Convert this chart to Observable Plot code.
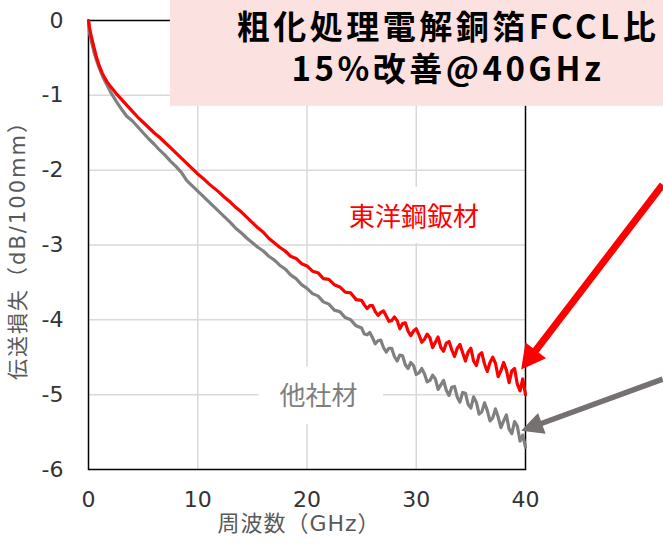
<!DOCTYPE html>
<html><head><meta charset="utf-8">
<script src="https://cdn.jsdelivr.net/npm/d3@7"></script>
<script src="https://cdn.jsdelivr.net/npm/@observablehq/plot@0.6"></script>
<style>body{margin:0;background:#fff}</style>
</head><body><div id="chart"></div>
<script>
// 東洋鋼鈑材 (red)
const redFreq = [0,0.1,0.25,0.5,0.75,1,1.25,1.5,1.75,2,2.5,3,3.5,4,4.5,5,5.5,6,6.5,7,7.5,8,8.5,9,9.5,10,10.5,11,11.5,12,12.5,13,13.5,14,14.5,15,15.5,16,16.5,17,17.5,18,18.5,19,19.5,20,20.5,21,21.5,22,22.5,23,23.5,24,24.5,
  25,25.25,25.5,25.75,26,26.25,26.5,26.75,27,27.25,27.5,27.75,28,28.25,28.5,28.75,29,29.25,29.5,29.75,30,30.25,30.5,30.75,31,31.25,31.5,31.75,32,32.25,32.5,32.75,33,33.25,33.5,33.75,34,34.25,34.5,34.75,35,35.25,35.5,35.75,36,36.25,36.5,36.75,37,37.25,37.5,37.75,38,38.25,38.5,38.75,39,39.25,39.5,39.75,40];
const redLoss = [0,-0.1,-0.21,-0.36,-0.5,-0.61,-0.7,-0.77,-0.83,-0.88,-0.97,-1.05,-1.13,-1.21,-1.29,-1.36,-1.43,-1.5,-1.56,-1.63,-1.7,-1.77,-1.84,-1.91,-1.98,-2.05,-2.11,-2.18,-2.24,-2.3,-2.37,-2.43,-2.5,-2.56,-2.63,-2.7,-2.77,-2.83,-2.91,-2.97,-3.03,-3.08,-3.15,-3.18,-3.25,-3.28,-3.35,-3.37,-3.45,-3.46,-3.53,-3.56,-3.63,-3.64,-3.73,
  -3.74,-3.8,-3.85,-3.81,-3.81,-3.89,-3.94,-3.9,-3.88,-3.95,-4.02,-4.01,-3.96,-4.01,-4.12,-4.05,-4.04,-4.15,-4.21,-4.15,-4.12,-4.2,-4.3,-4.26,-4.19,-4.24,-4.37,-4.3,-4.23,-4.37,-4.42,-4.31,-4.29,-4.4,-4.49,-4.38,-4.33,-4.44,-4.55,-4.43,-4.38,-4.55,-4.61,-4.47,-4.44,-4.59,-4.69,-4.57,-4.5,-4.58,-4.76,-4.68,-4.57,-4.67,-4.84,-4.68,-4.65,-4.86,-4.95,-4.79,-5.0];
// 他社材 (gray)
const grayFreq = [0,0.05,0.1,0.25,0.5,0.75,1,1.25,1.5,2,2.5,3,3.5,4,4.5,5,5.5,6,6.5,7,7.5,8,8.5,9,9.5,10,10.5,11,11.5,12,12.5,13,13.5,14,14.5,15,15.5,16,16.5,17,17.5,18,18.5,19,19.5,20,20.5,21,21.5,22,22.5,23,23.5,24,24.5,
  25,25.25,25.5,25.75,26,26.25,26.5,26.75,27,27.25,27.5,27.75,28,28.25,28.5,28.75,29,29.25,29.5,29.75,30,30.25,30.5,30.75,31,31.25,31.5,31.75,32,32.25,32.5,32.75,33,33.25,33.5,33.75,34,34.25,34.5,34.75,35,35.25,35.5,35.75,36,36.25,36.5,36.75,37,37.25,37.5,37.75,38,38.25,38.5,38.75,39,39.25,39.5,39.75,40];
const grayLoss = [0,-0.1,-0.17,-0.27,-0.42,-0.54,-0.64,-0.73,-0.81,-0.95,-1.07,-1.18,-1.28,-1.34,-1.42,-1.5,-1.58,-1.65,-1.73,-1.8,-1.88,-1.95,-2.03,-2.14,-2.21,-2.28,-2.35,-2.42,-2.49,-2.56,-2.63,-2.7,-2.78,-2.84,-2.91,-2.97,-3.03,-3.08,-3.15,-3.2,-3.27,-3.32,-3.4,-3.45,-3.53,-3.58,-3.65,-3.68,-3.76,-3.79,-3.87,-3.89,-3.97,-4.0,-4.08,
  -4.11,-4.19,-4.2,-4.17,-4.24,-4.32,-4.28,-4.27,-4.37,-4.43,-4.38,-4.38,-4.49,-4.55,-4.47,-4.48,-4.6,-4.65,-4.57,-4.61,-4.73,-4.71,-4.65,-4.72,-4.83,-4.81,-4.74,-4.79,-4.93,-4.87,-4.81,-4.94,-5.01,-4.9,-4.89,-5.03,-5.1,-4.97,-4.98,-5.13,-5.18,-5.03,-5.1,-5.26,-5.23,-5.11,-5.21,-5.35,-5.31,-5.19,-5.3,-5.44,-5.35,-5.27,-5.46,-5.52,-5.36,-5.42,-5.62,-5.54,-5.7];

const xTicks = [0,10,20,30,40];
const yTicks = [0,-1,-2,-3,-4,-5,-6];
const xLabel = "周波数（GHz）";
const yLabel = "伝送損失（dB/100mm）";
const calloutLines = ["粗化処理電解銅箔FCCL比", "15%改善@40GHz"];
const calloutY = [-0.1, -0.67];
const seriesNames = ["東洋鋼鈑材", "他社材"];

const red = redFreq.map((f, i) => ({f, v: redLoss[i]}));
const gray = grayFreq.map((f, i) => ({f, v: grayLoss[i]}));

// annotation placement (data coordinates)
const calloutBox = [{x1: 7.5, x2: 60, y1: 1, y2: -1.147}];
const labelBoxes = [
  {x1: 22.2, x2: 38.0, y1: -2.23, y2: -2.98},
  {x1: 15.6, x2: 27.0, y1: -4.63, y2: -5.4}
];
const seriesLabels = [
  {x: 29.8, y: -2.63, text: seriesNames[0], color: "#ff0000"},
  {x: 21.05, y: -5.03, text: seriesNames[1], color: "#7f7f7f"}
];
const arrows = [
  {x1: 52.6, y1: -2.2, x2: 39.65, y2: -4.67, color: "#ff0000", width: 7, len: 24, half: 13},
  {x1: 52.6, y1: -4.8, x2: 39.65, y2: -5.49, color: "#767171", width: 5.5, len: 22, half: 11}
];

const font = "'DejaVu Sans', 'Noto Sans CJK JP', sans-serif";
const plot = Plot.plot({
  width: 663, height: 550,
  marginLeft: 88, marginRight: 138, marginTop: 20, marginBottom: 81,
  style: {fontFamily: font, background: "#fff", overflow: "hidden"},
  x: {domain: [0, 40]},
  y: {domain: [-6, 0]},
  marks: [
    Plot.gridX(xTicks.slice(1, -1), {stroke: "#d9d9d9", strokeOpacity: 1, strokeWidth: 1.5}),
    Plot.gridY(yTicks.slice(1, -1), {stroke: "#d9d9d9", strokeOpacity: 1, strokeWidth: 1.5}),
    Plot.rect(labelBoxes, {x1: "x1", x2: "x2", y1: "y1", y2: "y2", fill: "white"}),
    Plot.frame({stroke: "black", strokeWidth: 1.5}),
    Plot.axisX(xTicks, {tickSize: 0, tickPadding: 22, fontSize: 22, fill: "#333", label: null, tickFormat: d => String(d)}),
    Plot.axisY(yTicks, {tickSize: 0, tickPadding: 25, fontSize: 22, fill: "#333", label: null, tickFormat: d => String(d)}),
    Plot.text([yLabel], {frameAnchor: "left", dx: -70, rotate: -90, textAnchor: "middle", text: d => d, fontSize: 21, fill: "#595959"}),
    Plot.text([xLabel], {frameAnchor: "bottom", dy: 61, dx: -8, textAnchor: "middle", text: d => d, fontSize: 22, fill: "#595959"}),
    Plot.line(gray, {x: "f", y: "v", stroke: "#808080", strokeWidth: 3.2}),
    Plot.line(red, {x: "f", y: "v", stroke: "#ff0000", strokeWidth: 3.2}),
    Plot.rect(calloutBox, {x1: "x1", x2: "x2", y1: "y1", y2: "y2", fill: "#fce1e1"}),
    Plot.text(calloutLines, {x: 32.9, y: (d, i) => calloutY[i], text: d => d, fontSize: 33, fontWeight: "bold", fill: "black", fontFamily: "'Noto Sans CJK JP', 'DejaVu Sans', sans-serif"}),
    Plot.text(seriesLabels, {x: "x", y: "y", text: "text", fill: "color", fontSize: 26, fontFamily: "'Noto Sans CJK JP', sans-serif"})
  ]
});

const svg = d3.select(plot);
// letter spacing to match the reference's wide glyphs
svg.selectAll("text").each(function () {
  const t = this.textContent;
  if (calloutLines.includes(t)) d3.select(this).style("letter-spacing", "3.5px");
  else if (t === yLabel) d3.select(this).style("letter-spacing", "2px");
  else if (t === xLabel) d3.select(this).style("letter-spacing", "1px");
});

// arrows drawn through the plot's scales
const sx = plot.scale("x"), sy = plot.scale("y");
for (const a of arrows) {
  const p1 = [sx.apply(a.x1), sy.apply(a.y1)];
  const p2 = [sx.apply(a.x2), sy.apply(a.y2)];
  const dx = p2[0] - p1[0], dy = p2[1] - p1[1];
  const L = Math.hypot(dx, dy);
  const u = [dx / L, dy / L], n = [-u[1], u[0]];
  const base = [p2[0] - u[0] * a.len, p2[1] - u[1] * a.len];
  svg.append("line").attr("x1", p1[0]).attr("y1", p1[1]).attr("x2", base[0] + u[0] * 2).attr("y2", base[1] + u[1] * 2)
    .attr("stroke", a.color).attr("stroke-width", a.width);
  svg.append("polygon").attr("points", [p2, [base[0] + n[0] * a.half, base[1] + n[1] * a.half], [base[0] - n[0] * a.half, base[1] - n[1] * a.half]].map(p => p.join(",")).join(" "))
    .attr("fill", a.color);
}
document.getElementById("chart").appendChild(plot);
</script>
</body></html>
